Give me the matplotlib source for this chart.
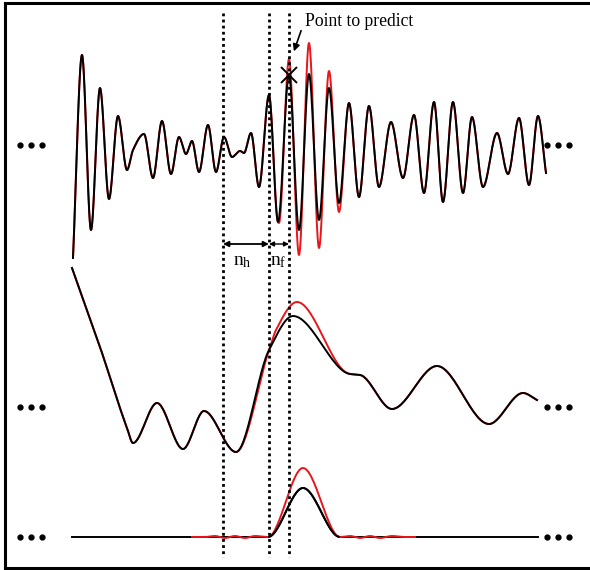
import numpy as np
import matplotlib.pyplot as plt

plt.rcParams['font.family'] = ['Liberation Serif', 'DejaVu Serif']
plt.rcParams['mathtext.fontset'] = 'custom'
plt.rcParams['mathtext.rm'] = 'Liberation Serif'

# key points (pixel coords, y grows downwards)
top_x = [73, 82, 91, 100, 109, 118, 127, 133, 144, 153, 162, 171, 179, 186, 192, 199,
         208, 216, 224, 232, 240, 244, 251, 259, 269, 278, 289, 299, 309, 319, 329, 339,
         349, 359, 369, 379, 391, 403, 414, 424, 434, 443, 453, 463, 472, 483, 497, 508,
         519, 529, 538, 546]
top_y = [258, 55, 230, 88, 199, 116, 170, 150, 134, 178, 121, 174, 137, 154, 141, 172,
         125, 172, 137, 157, 151, 153, 133, 187, 95, 222, 75, 230, 74, 220, 88, 203,
         103, 197, 106, 187, 122, 178, 115, 193, 102, 202, 102, 193, 117, 187, 133, 174,
         118, 185, 116, 173]
# forecast (red) where it differs from the series
top_red_x = [279, 289, 299, 309, 319, 329, 339]
top_red_y = [223, 59, 255, 43, 248, 71, 212]

mid_x = [72, 100, 127, 133, 157, 183, 204, 236, 269, 293, 350, 360, 392, 437, 489, 523, 537]
mid_y = [268, 347, 428, 443, 403, 449, 411, 452, 350, 316, 374, 375, 409, 366, 424, 393, 400]
mid_red_x = [276, 297, 347]
mid_red_y = [330, 302, 373]

bot_x = [72, 268, 303, 340, 538]
bot_y = [537, 537, 488, 537, 537]
bot_red_x = [192, 205, 215, 225, 235, 245, 255, 268, 303, 340, 350, 360, 370, 380, 392, 405, 415]
bot_red_y = [537, 537, 536, 538, 536, 538, 536, 537, 468, 537, 536, 538, 536, 538, 536, 537, 537]

vlines = [223, 269, 289]
dots_y = [145, 407, 537]


def pchip(x, y, n=30):
    x = np.asarray(x, float)
    y = np.asarray(y, float)
    h = np.diff(x)
    d = np.diff(y) / h
    m = np.zeros_like(y)
    for k in range(1, len(x) - 1):
        if d[k - 1] * d[k] > 0:
            w1 = 2 * h[k] + h[k - 1]
            w2 = h[k] + 2 * h[k - 1]
            m[k] = (w1 + w2) / (w1 / d[k - 1] + w2 / d[k])
    m[0] = d[0]
    m[-1] = d[-1]
    xs, ys = [], []
    for k in range(len(x) - 1):
        t = np.linspace(0, 1, n, endpoint=False)
        h00 = 2 * t**3 - 3 * t**2 + 1
        h10 = t**3 - 2 * t**2 + t
        h01 = -2 * t**3 + 3 * t**2
        h11 = t**3 - t**2
        xs.append(x[k] + t * h[k])
        ys.append(h00 * y[k] + h10 * h[k] * m[k] + h01 * y[k + 1] + h11 * h[k] * m[k + 1])
    xs.append([x[-1]])
    ys.append([y[-1]])
    return np.concatenate(xs), np.concatenate(ys)


def merge(bx, by, rx, ry):
    pts = [(a, b) for a, b in zip(bx, by) if a < rx[0] or a > rx[-1]]
    pts += list(zip(rx, ry))
    pts.sort()
    return [p[0] for p in pts], [p[1] for p in pts]


fig = plt.figure(figsize=(5.9, 5.7), dpi=100)
ax = fig.add_axes([0, 0, 1, 1])
ax.set_xlim(0, 590)
ax.set_ylim(570, 0)
ax.axis('off')

red = '#e8161b'
lw = 1.4

# top panel
rx, ry = merge(top_x, top_y, top_red_x, top_red_y)
ax.plot(*pchip(rx, ry), color=red, lw=lw)
ax.plot(*pchip(top_x, top_y), color='black', lw=lw)

# middle panel
rx, ry = merge(mid_x, mid_y, mid_red_x, mid_red_y)
ax.plot(*pchip(rx, ry), color=red, lw=lw)
ax.plot(*pchip(mid_x, mid_y), color='black', lw=lw)

# bottom panel
ax.plot(*pchip(bot_x, bot_y), color='black', lw=lw)
ax.plot(*pchip(bot_red_x, bot_red_y), color=red, lw=lw)
bx, by = pchip(bot_x, bot_y)
mask = (bx > 268) & (bx < 340)
ax.plot(bx[mask], by[mask], color='black', lw=lw)

# dotted verticals
for v in vlines:
    ax.plot([v, v], [13, 557], color='black', lw=2, ls=(0, (1, 1.2)))

# ellipses
for yy in dots_y:
    ax.plot([20, 31, 42], [yy] * 3, 'o', color='black', ms=3.5)
    ax.plot([547, 558, 569], [yy] * 3, 'o', color='black', ms=3.5)

# point to predict
ax.plot(289, 75, marker='x', color='black', ms=11, mew=1.4)
ax.annotate('', xy=(293, 54), xytext=(302, 28),
            arrowprops=dict(arrowstyle='-|>', color='black', lw=1.2, mutation_scale=10))
ax.text(305, 21, 'Point to predict', fontsize=12.7, ha='left', va='center')

# window arrows
ax.annotate('', xy=(223, 244), xytext=(269, 244),
            arrowprops=dict(arrowstyle='<|-|>', color='black', lw=1.3, mutation_scale=8,
                            shrinkA=0, shrinkB=0))
ax.annotate('', xy=(269, 244), xytext=(289, 244),
            arrowprops=dict(arrowstyle='<|-|>', color='black', lw=1.0, mutation_scale=7,
                            shrinkA=0, shrinkB=0))
ax.text(233, 262, r'$\mathregular{n_h}$', fontsize=14, ha='left', va='center')
ax.text(270, 262, r'$\mathregular{n_f}$', fontsize=14, ha='left', va='center')

# frame
ax.plot([5, 5], [3, 568], color='black', lw=2.2, solid_capstyle='projecting')
ax.plot([5, 590], [3, 3], color='black', lw=2.2, solid_capstyle='projecting')
ax.plot([5, 590], [568, 568], color='black', lw=2.2, solid_capstyle='projecting')

fig.savefig('out.png', dpi=100)
